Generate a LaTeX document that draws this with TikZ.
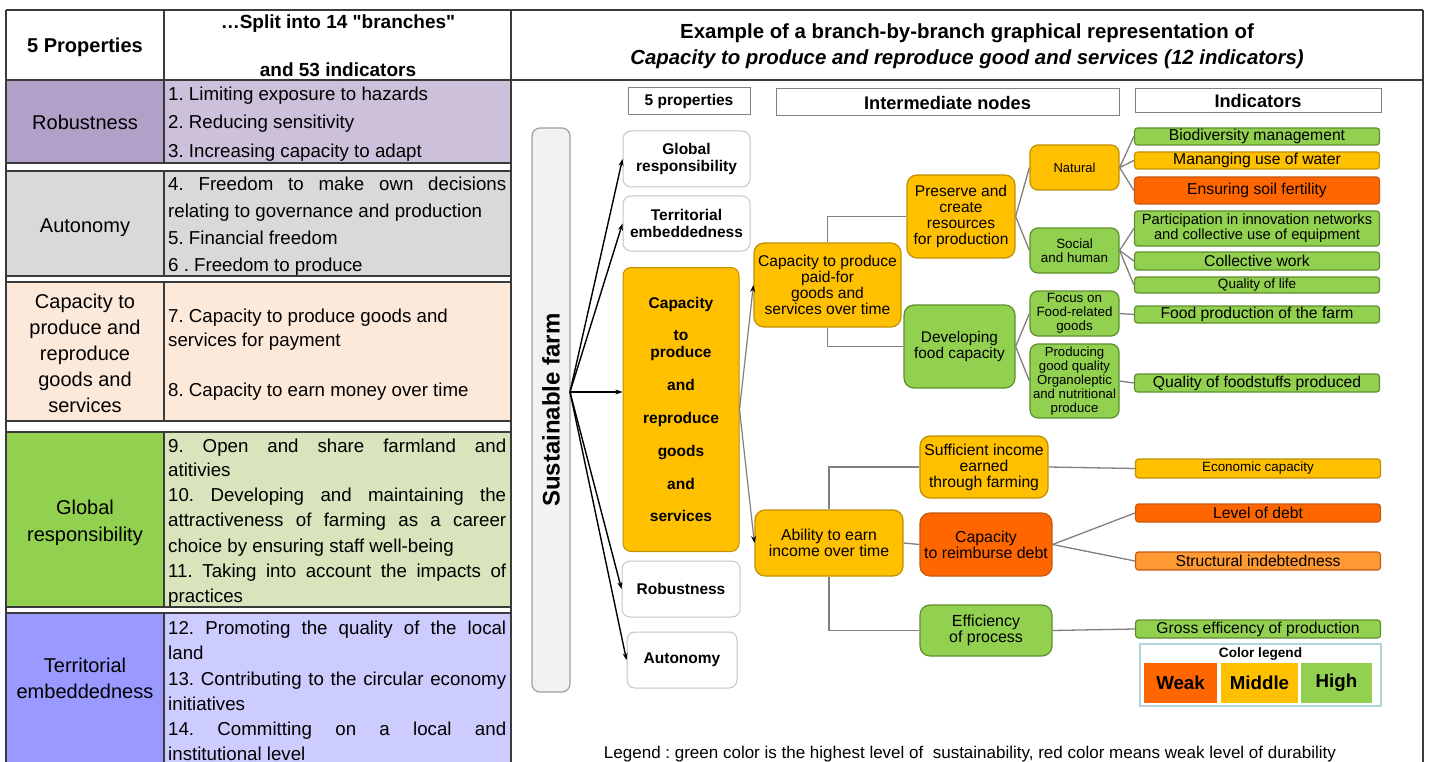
\documentclass[tikz,border=0pt]{standalone}
\usepackage{fontspec}
\setmainfont{Liberation Sans}
\newfontfamily\nqfont{Liberation Sans}[Ligatures=TeXOff]
\usetikzlibrary{arrows.meta}
\frenchspacing
\definecolor{gold}{HTML}{FFC000}
\definecolor{goldb}{HTML}{C09000}
\definecolor{grn}{HTML}{92D050}
\definecolor{grnb}{HTML}{5E8E2E}
\definecolor{redo}{HTML}{FF6600}
\definecolor{redob}{HTML}{C55A11}
\definecolor{lorange}{HTML}{FF9933}
\definecolor{tlinec}{HTML}{3A3A3A}
\definecolor{connc}{HTML}{808080}
\definecolor{purL}{HTML}{B1A0C7}
\definecolor{purR}{HTML}{CCC0DA}
\definecolor{grayC}{HTML}{D9D9D9}
\definecolor{peach}{HTML}{FDE9D9}
\definecolor{grnL}{HTML}{D8E4BC}
\definecolor{bluL}{HTML}{9999FF}
\definecolor{bluR}{HTML}{CCCCFF}
\definecolor{legb}{HTML}{B4D4DC}
\tikzset{
 tline/.style={draw=tlinec, line width=1.4pt},
 cell/.style={font=\fontsize{18.7}{25}\selectfont, anchor=west, inner xsep=0pt, inner ysep=0pt, text height=13.4pt, text depth=0pt},
 lcell/.style={font=\fontsize{20}{24}\selectfont, inner sep=0pt, text height=14.3pt, text depth=0pt},
 hdr/.style={font=\bfseries\fontsize{19}{22}\selectfont, inner sep=0pt, text height=13.6pt, text depth=0pt},
 hbox/.style={draw=connc, line width=1pt, inner sep=0pt, font=\bfseries\fontsize{18.2}{20}\selectfont},
 prop/.style={draw=gray!45, line width=1pt, rounded corners=8pt, fill=white, align=center, inner sep=0pt, font=\bfseries\fontsize{15.5}{16.5}\selectfont},
 mid/.style={rounded corners=10pt, line width=1.2pt, align=center, inner sep=0pt, font=\fontsize{15.6}{16}\selectfont},
 obox/.style={fill=gold, draw=goldb},
 gbox/.style={fill=grn, draw=grnb},
 rbox/.style={fill=redo, draw=redob},
 lbox/.style={fill=lorange, draw=redob},
 ind/.style={rounded corners=3pt, line width=1.2pt, align=center, inner sep=0pt, minimum width=245pt, font=\fontsize{15.7}{15}\selectfont},
 conn/.style={draw=connc, line width=1.3pt},
 arr/.style={-{Stealth[length=7pt,width=5pt]}, line width=1.4pt, draw=black},
 garr/.style={-{Stealth[length=7pt,width=5pt,color=black]}, line width=1.2pt, draw=connc},
}
\begin{document}
\begin{tikzpicture}[x=1pt,y=-1pt]
\useasboundingbox (0,0) rectangle (1429,762);
\fill[white] (0,0) rectangle (1429,762);

% ---------- left table fills ----------
\fill[purL] (6,80) rectangle (164,163);
\fill[purR] (164,80) rectangle (511,163);
\fill[grayC] (6,171) rectangle (511,276);
\fill[peach] (6,282) rectangle (511,421);
\fill[grn] (6,432) rectangle (164,607);
\fill[grnL] (164,432) rectangle (511,607);
\fill[bluL] (6,613) rectangle (164,762);
\fill[bluR] (164,613) rectangle (511,762);

% ---------- table lines ----------
\draw[tline] (6,10) -- (1423,10);
\draw[tline] (6,80) -- (1423,80);
\draw[tline] (6,10) -- (6,762);
\draw[tline] (511,10) -- (511,762);
\draw[tline] (1423,10) -- (1423,762);
\draw[tline] (164,10) -- (164,163);
\draw[tline] (164,171) -- (164,276);
\draw[tline] (164,282) -- (164,421);
\draw[tline] (164,432) -- (164,607);
\draw[tline] (164,613) -- (164,762);
\foreach \yy in {163,171,276,282,421,432,607,613} {\draw[tline] (6,\yy) -- (511,\yy);}

% ---------- table header ----------
\node[hdr, font=\bfseries\fontsize{20}{22}\selectfont] (h1) at (85,46) {5 Properties};
\node[hdr, font=\nqfont\bfseries\fontsize{19}{22}\selectfont] (h2) at (338,22) {…Split into 14 "branches"};
\node[hdr] (h3) at (338,70) {and 53 indicators};

% ---------- left column ----------
\node[lcell] (l1) at (85,122.5) {Robustness};
\node[lcell] (l2) at (85,225.5) {Autonomy};
\node[lcell] (l3a) at (85,301) {Capacity to};
\node[lcell] (l3b) at (85,327) {produce and};
\node[lcell] (l3c) at (85,353) {reproduce};
\node[lcell] (l3d) at (85,379.5) {goods and};
\node[lcell] (l3e) at (85,405) {services};
\node[lcell] (l4a) at (85,507.5) {Global};
\node[lcell] (l4b) at (85,534) {responsibility};
\node[lcell] (l5a) at (85,665.5) {Territorial};
\node[lcell] (l5b) at (85,691) {embeddedness};

% ---------- right column ----------
\node[cell] (r1a) at (168,94) {1. Limiting exposure to hazards};
\node[cell] (r1b) at (168,122) {2. Reducing sensitivity};
\node[cell] (r1c) at (168,151) {3. Increasing capacity to adapt};
\node[cell] (r2a) at (168,184) {\makebox[338pt][s]{4. Freedom to make own decisions}};
\node[cell] (r2b) at (168,211) {relating to governance and production};
\node[cell] (r2c) at (168,238) {5. Financial freedom};
\node[cell] (r2d) at (168,264.5) {6 . Freedom to produce};
\node[cell] (r3a) at (168,316) {7. Capacity to produce goods and};
\node[cell] (r3b) at (168,340) {services for payment};
\node[cell] (r3c) at (168,389.5) {8. Capacity to earn money over time};
\node[cell] (r4a) at (168,446) {\makebox[338pt][s]{9. Open and share farmland and}};
\node[cell] (r4b) at (168,470) {atitivies};
\node[cell] (r4c) at (168,494.5) {\makebox[338pt][s]{10. Developing and maintaining the}};
\node[cell] (r4d) at (168,520) {\makebox[338pt][s]{attractiveness of farming as a career}};
\node[cell] (r4e) at (168,545.5) {choice by ensuring staff well-being};
\node[cell] (r4f) at (168,570.5) {\makebox[338pt][s]{11. Taking into account the impacts of}};
\node[cell] (r4g) at (168,596) {practices};
\node[cell] (r5a) at (168,628) {\makebox[338pt][s]{12. Promoting the quality of the local}};
\node[cell] (r5b) at (168,653) {land};
\node[cell] (r5c) at (168,679) {\makebox[338pt][s]{13. Contributing to the circular economy}};
\node[cell] (r5d) at (168,704) {initiatives};
\node[cell] (r5e) at (168,729) {\makebox[338pt][s]{14. Committing on a local and}};
\node[cell] (r5f) at (168,754) {institutional level};

% ---------- right panel title ----------
\node[font=\bfseries\fontsize{20.4}{24}\selectfont, inner sep=0pt] (t1) at (967,33) {Example of a branch-by-branch graphical representation of};
\node[font=\bfseries\itshape\fontsize{20.4}{24}\selectfont, inner sep=0pt] (t2) at (967,59) {Capacity to produce and reproduce good and services (12 indicators)};

% ---------- header boxes ----------
\node[hbox, font=\bfseries\fontsize{15.5}{17}\selectfont, minimum width=122pt, minimum height=27pt] (hp) at (689,101.5) {5 properties};
\node[hbox, minimum width=343pt, minimum height=27pt] (hi) at (947.5,102.5) {Intermediate nodes};
\node[hbox, minimum width=246pt, minimum height=24pt] (hn) at (1258,101) {Indicators};

% ---------- sustainable farm ----------
\node[draw=gray!75, fill=gray!10, rounded corners=8pt, line width=1.2pt, minimum width=38pt, minimum height=564pt, inner sep=0pt] (farm) at (551,410) {};
\node[rotate=90, font=\bfseries\fontsize{24}{26}\selectfont, inner sep=0pt] (farmtxt) at (551,410) {Sustainable farm};
\coordinate (o) at (570,392);

% ---------- 5 properties ----------
\node[prop, minimum width=127pt, minimum height=56pt] (pg) at (686.5,159) {Global\\responsibility};
\node[prop, minimum width=127pt, minimum height=55pt] (pt) at (686.5,223.5) {Territorial\\embeddedness};
\node[prop, obox, draw=goldb, minimum width=116pt, minimum height=284pt] (pc) at (681,409.5) {Capacity\\[16.4pt]to\\produce\\[16.4pt]and\\[16.4pt]reproduce\\[16.4pt]goods\\[16.4pt]and\\[16.4pt]services};
\node[prop, minimum width=118pt, minimum height=56pt] (pr) at (681,589) {Robustness};
\node[prop, minimum width=110pt, minimum height=56pt] (pa) at (682,660) {Autonomy};

\draw[arr] (o) -- (pg.west);
\draw[arr] (o) -- (pt.west);
\draw[arr] (o) -- (o -| pc.west);
\draw[arr] (o) -- (pr.west);
\draw[arr] (o) -- (pa.west);

% ---------- intermediate nodes ----------
\node[mid, obox, minimum width=147pt, minimum height=84pt] (cp) at (827.5,285) {Capacity to produce\\paid-for\\goods and\\services over time};
\node[mid, obox, minimum width=148pt, minimum height=66pt, font=\fontsize{15.8}{16}\selectfont] (ab) at (829,543) {Ability to earn\\income over time};
\node[mid, obox, minimum width=108pt, minimum height=83pt, font=\fontsize{15.5}{16}\selectfont] (pv) at (961,216.5) {Preserve and\\create\\resources\\for production};
\node[mid, gbox, minimum width=111pt, minimum height=83pt, font=\fontsize{15.4}{16}\selectfont] (dv) at (959.5,346.5) {Developing\\food capacity};
\node[mid, obox, minimum width=128pt, minimum height=62pt, font=\fontsize{15.7}{16}\selectfont] (si) at (984,467) {Sufficient income\\earned\\through farming};
\node[mid, rbox, minimum width=132pt, minimum height=63pt, font=\fontsize{15.9}{16}\selectfont] (cr) at (986,544.5) {Capacity\\to reimburse debt};
\node[mid, gbox, minimum width=132pt, minimum height=51pt, font=\fontsize{16}{16}\selectfont] (ef) at (986,630.5) {Efficiency\\of process};

\node[mid, obox, rounded corners=8pt, minimum width=89pt, minimum height=45pt, font=\fontsize{13}{14}\selectfont] (na) at (1074.5,167.5) {Natural};
\node[mid, gbox, rounded corners=8pt, minimum width=89pt, minimum height=45pt, font=\fontsize{13.4}{14}\selectfont] (sh) at (1074.5,250.5) {Social\\and human};
\node[mid, gbox, rounded corners=8pt, minimum width=89pt, minimum height=45pt, font=\fontsize{13.4}{14}\selectfont] (fo) at (1074.5,313.5) {Focus on\\Food-related\\goods};
\node[mid, gbox, rounded corners=8pt, minimum width=89pt, minimum height=74pt, font=\fontsize{13.2}{14}\selectfont] (pq) at (1074.5,381) {Producing\\good quality\\Organoleptic\\and nutritional\\produce};

% ---------- indicators ----------
\node[ind, gbox, minimum height=17pt] (i1) at (1257,136.5) {Biodiversity management};
\node[ind, obox, minimum height=17pt] (i2) at (1257,160.5) {Mananging use of water};
\node[ind, rbox, minimum height=27pt] (i3) at (1257,190.5) {Ensuring soil fertility};
\node[ind, gbox, minimum height=35pt, font=\fontsize{14.7}{15}\selectfont] (i4) at (1257,228.5) {Participation in innovation networks\\and collective use of equipment};
\node[ind, gbox, minimum height=18pt] (i5) at (1257,261) {Collective work};
\node[ind, gbox, minimum height=16pt, font=\fontsize{13.5}{14}\selectfont] (i6) at (1257,285) {Quality of life};
\node[ind, gbox, minimum height=17pt] (i7) at (1257,314.5) {Food production of the farm};
\node[ind, gbox, minimum height=18pt] (i8) at (1257,383) {Quality of foodstuffs produced};
\node[ind, obox, minimum height=19pt, font=\fontsize{13.4}{14}\selectfont] (i9) at (1258,468.5) {Economic capacity};
\node[ind, rbox, minimum height=18pt] (i10) at (1258,513) {Level of debt};
\node[ind, lbox, minimum height=18pt] (i11) at (1258,561) {Structural indebtedness};
\node[ind, gbox, minimum height=18pt] (i12) at (1258,629) {Gross efficency of production};

% ---------- connectors ----------
\draw[garr] (pc.east) -- (cp.west);
\draw[garr] (pc.east) -- (ab.west);
\draw[conn] (cp.north) |- (pv.west);
\draw[conn] (cp.south) |- (dv.west);
\draw[conn] (ab.north) |- (si.west);
\draw[conn] (ab.south) |- (ef.west);
\draw[conn] (ab.east) -- (cr.west);
\draw[conn] (pv.east) -- (na.west);
\draw[conn] (pv.east) -- (sh.west);
\draw[conn] (dv.east) -- (fo.west);
\draw[conn] (dv.east) -- (pq.west);
\draw[conn] (na.east) -- (i1.west);
\draw[conn] (na.east) -- (i2.west);
\draw[conn] (na.east) -- (i3.west);
\draw[conn] (sh.east) -- (i4.west);
\draw[conn] (sh.east) -- (i5.west);
\draw[conn] (sh.east) -- (i6.west);
\draw[conn] (fo.east) -- (i7.west);
\draw[conn] (pq.east) -- (i8.west);
\draw[conn] (si.east) -- (i9.west);
\draw[conn] (cr.east) -- (i10.west);
\draw[conn] (cr.east) -- (i11.west);
\draw[conn] (ef.east) -- (i12.west);

% ---------- colour legend ----------
\node[draw=legb, line width=1.2pt, minimum width=241pt, minimum height=62pt, inner sep=0pt] (lg) at (1260.5,675) {};
\node[font=\bfseries\fontsize{13.6}{15}\selectfont, inner sep=0pt] (lgt) at (1260.5,654) {Color legend};
\node[fill=redo, minimum width=73pt, minimum height=40pt, inner sep=0pt, font=\bfseries\fontsize{18.7}{20}\selectfont] (lw) at (1180.5,683) {Weak};
\node[fill=gold, minimum width=77pt, minimum height=40pt, inner sep=0pt, font=\bfseries\fontsize{18.7}{20}\selectfont] (lm) at (1259.5,683) {Middle};
\node[fill=grn, minimum width=71pt, minimum height=40pt, inner sep=0pt, font=\bfseries\fontsize{18.7}{20}\selectfont] (lh) at (1336.5,683) {High};

% ---------- bottom legend ----------
\node[font=\fontsize{17}{20}\selectfont, anchor=base, inner sep=0pt] (leg) at (970,758) {Legend : green color is the highest level of~ sustainability, red color means weak level of durability};
\end{tikzpicture}
\end{document}
